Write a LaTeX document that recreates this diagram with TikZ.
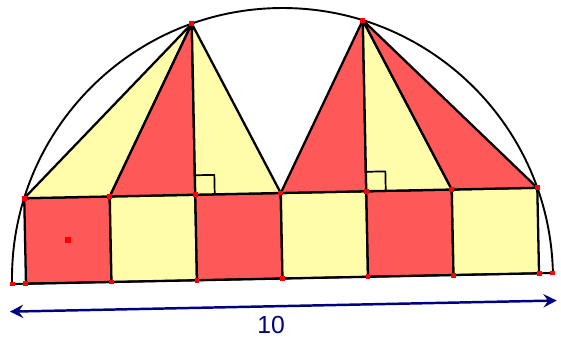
\documentclass[tikz,border=0pt]{standalone}
\usepackage{fontspec}
\setmainfont{Liberation Sans}
\usetikzlibrary{arrows.meta,calc}
\definecolor{tentred}{RGB}{255,88,88}
\definecolor{tentyellow}{RGB}{255,252,170}
\definecolor{dimblue}{RGB}{0,0,130}

\begin{document}
\begin{tikzpicture}[
  line join=round,
  edge/.style={draw=black, line width=1.2pt},
  redpart/.style={edge, fill=tentred},
  yellowpart/.style={edge, fill=tentyellow},
  rmark/.style={draw=black, line width=0.9pt},
  vtx/.style={fill=red, minimum size=2.6pt, inner sep=0pt},
  dim/.style={draw=dimblue, line width=1.3pt, {Stealth[length=7pt,width=7pt,inset=2.5pt]}-{Stealth[length=7pt,width=7pt,inset=2.5pt]}}
]
\useasboundingbox (-5.222,-1.155) rectangle (5.148,5.148);
\pgfmathsetmacro{\a}{sqrt(2.5)}
\begin{scope}[rotate=1.165]
% corners of the six squares
\foreach \i in {0,...,6} {
  \coordinate (b\i) at ({(\i-3)*\a},0);
  \coordinate (t\i) at ({(\i-3)*\a},\a);
}
\coordinate (apexL) at (-\a,3*\a);
\coordinate (apexR) at (\a,3*\a);
\coordinate (dL) at (-5,0);
\coordinate (dR) at (5,0);
\coordinate (sqc) at ({-2.5*\a},{0.5*\a});

% squares
\path[redpart] (b0) -- (b1) -- (t1) -- (t0) -- cycle;
\path[yellowpart] (b1) -- (b2) -- (t2) -- (t1) -- cycle;
\path[redpart] (b2) -- (b3) -- (t3) -- (t2) -- cycle;
\path[yellowpart] (b3) -- (b4) -- (t4) -- (t3) -- cycle;
\path[redpart] (b4) -- (b5) -- (t5) -- (t4) -- cycle;
\path[yellowpart] (b5) -- (b6) -- (t6) -- (t5) -- cycle;

% triangles
\path[yellowpart] (t0) -- (t1) -- (apexL) -- cycle;
\path[redpart] (t1) -- (t2) -- (apexL) -- cycle;
\path[yellowpart] (t2) -- (t3) -- (apexL) -- cycle;
\path[redpart] (t3) -- (t4) -- (apexR) -- cycle;
\path[yellowpart] (t4) -- (t5) -- (apexR) -- cycle;
\path[redpart] (t5) -- (t6) -- (apexR) -- cycle;

% right angles
\draw[rmark] ($(t2)+(0,0.36)$) -- ++(0.36,0) -- ++(0,-0.36);
\draw[rmark] ($(t4)+(0,0.36)$) -- ++(0.36,0) -- ++(0,-0.36);

% half circle
\draw[edge, line width=1pt] (dL) -- (dR) arc[start angle=0, end angle=180, radius=5];

% points
\foreach \p in {dL,dR,b0,b1,b2,b3,b4,b5,b6,t0,t1,t2,t3,t4,t5,t6,apexL,apexR}
  \node[vtx] at (\p) {};
\node[vtx, minimum size=3.2pt] (mid) at (sqc) {};

% length
\coordinate (arrL) at (-5.05,-0.51);
\coordinate (arrR) at (5.06,-0.51);
\draw[dim] (arrL) -- (arrR);
\node[text=dimblue, font=\fontsize{13}{15}\selectfont] (len) at (-0.23,-0.86) {10};
\end{scope}
\end{tikzpicture}
\end{document}
